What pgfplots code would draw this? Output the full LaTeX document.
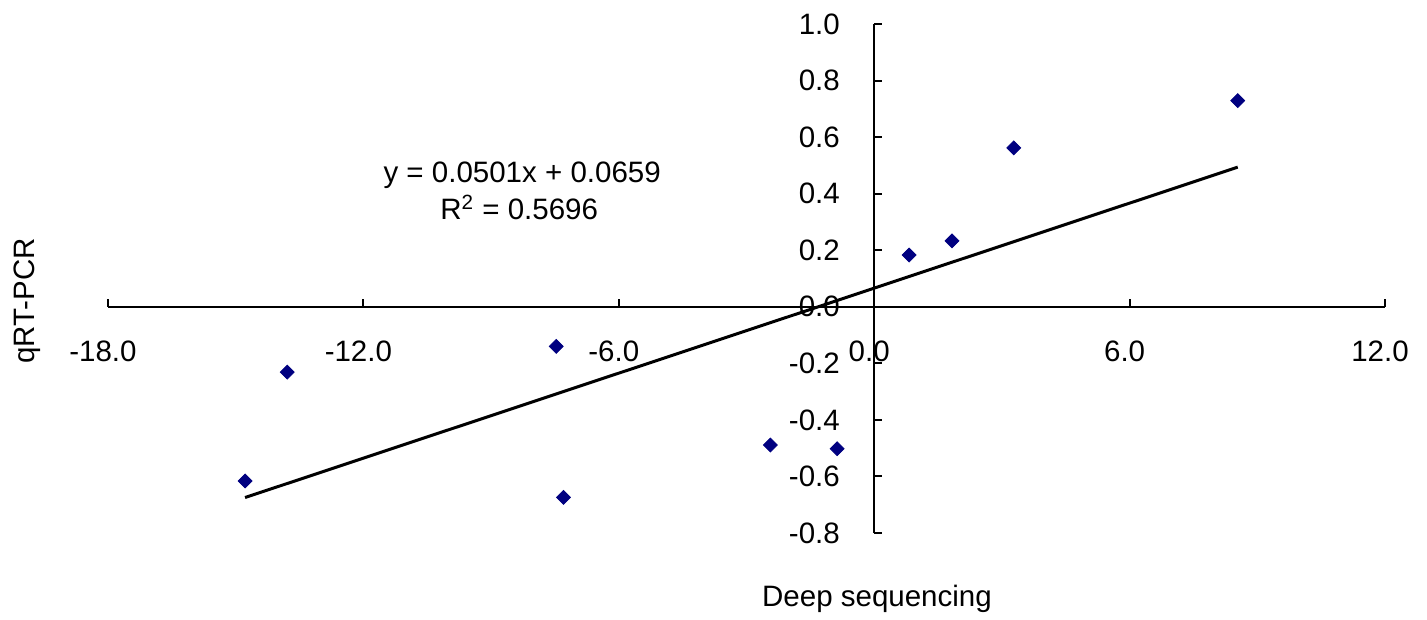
\documentclass[border=0pt]{standalone}
\usepackage{pgfplots}
\pgfplotsset{compat=1.18}
\usepackage{fontspec}
\setmainfont{Liberation Sans}
\definecolor{navy}{HTML}{000080}
\newcommand{\chartfont}{\fontsize{14.75}{17}\selectfont}

\begin{document}
\begin{tikzpicture}
\begin{axis}[
  scale only axis, width=638.5pt, height=254.5pt,
  axis lines=middle, axis line style={-, line width=1pt, black},
  xmin=-18, xmax=12, ymin=-0.8, ymax=1.0,
  xtick={-18,-12,-6,0,6,12},
  xticklabels={-18.0,-12.0,-6.0,0.0,6.0,12.0},
  ytick={-0.8,-0.6,-0.4,-0.2,0,0.2,0.4,0.6,0.8,1.0},
  yticklabels={-0.8,-0.6,-0.4,-0.2,0.0,0.2,0.4,0.6,0.8,1.0},
  hide obscured x ticks=false, hide obscured y ticks=false,
  tick align=inside, major tick length=4pt,
  tick style={line width=1pt, black},
  tick label style={font=\chartfont, inner sep=0pt},
  xticklabel style={anchor=center, yshift=-22.5pt, xshift=-2.5pt},
  yticklabel style={anchor=east, xshift=-17pt},
  clip=false,
]
% measured points
\addplot[only marks, mark=square*, mark size=2.45pt,
  mark options={rotate=45, fill=navy, draw=navy}]
  coordinates {
    (8.54,0.729) (3.28,0.562) (1.83,0.233) (0.82,0.183)
    (-0.87,-0.502) (-2.44,-0.489) (-7.30,-0.674) (-7.47,-0.140)
    (-13.79,-0.231) (-14.78,-0.616)
  };
% linear trend line y = 0.0501x + 0.0659
\addplot[black, line width=1.5pt, no marks]
  coordinates {(-14.78,-0.6746) (8.54,0.4938)};

\node[anchor=base, font=\chartfont] at (axis cs:-8.27,0.438) {y = 0.0501x + 0.0659};
\node[anchor=base, font=\chartfont] at (axis cs:-8.34,0.307) {R\textsuperscript{2} = 0.5696};
\node[anchor=base, rotate=90, font=\chartfont] at (axis cs:-19.715,0.02) {qRT-PCR};
\node[anchor=base, font=\chartfont] at (axis cs:0.066,-1.0615) {Deep sequencing};

\coordinate (bl) at (axis cs:-20.537,-1.0863);
\coordinate (tr) at (axis cs:12.987,1.0849);
\end{axis}
\path (bl) rectangle (tr);
\end{tikzpicture}
\end{document}
